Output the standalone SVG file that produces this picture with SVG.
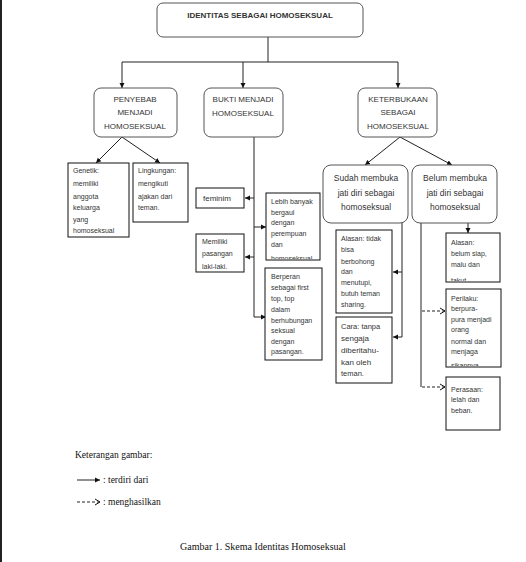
<svg xmlns="http://www.w3.org/2000/svg" width="526" height="562" viewBox="0 0 526 562">
<style>
.rb{fill:#fff;stroke:#555;stroke-width:1}
.bx{fill:#fff;stroke:#111;stroke-width:1}
.t{font-family:"Liberation Sans",Arial,sans-serif;fill:#333}
.h{font-size:8px;text-anchor:middle}
.s{font-size:7px}
.m{font-size:8.5px;text-anchor:middle}
.ln{fill:none;stroke:#222;stroke-width:1}
.dl{fill:none;stroke:#222;stroke-width:1;stroke-dasharray:3,2}
.tm{font-family:"Liberation Serif","Times New Roman",serif;fill:#111;font-size:10px}
.lg{font-size:9.5px}
</style>
<defs>
<marker id="a" markerWidth="6" markerHeight="6" refX="5" refY="3" orient="auto" markerUnits="userSpaceOnUse">
<path d="M0,0.5 L5,3 L0,5.5 Z" fill="#111"/>
</marker>
<marker id="o" markerWidth="7" markerHeight="8" refX="6" refY="4" orient="auto" markerUnits="userSpaceOnUse">
<path d="M1,1 L6,4 L1,7" fill="none" stroke="#111" stroke-width="1"/>
</marker>
<clipPath id="c1"><rect x="266" y="193" width="54" height="66"/></clipPath>
<clipPath id="c2"><rect x="446" y="233" width="54" height="48"/></clipPath>
<clipPath id="c3"><rect x="446" y="289" width="55" height="77"/></clipPath>
</defs>
<rect width="526" height="562" fill="#fff"/>
<line x1="1" y1="0" x2="1" y2="562" stroke="#222" stroke-width="2"/>

<g id="connectors">
<path class="ln" d="M268,37 V62 M122,62 H398"/>
<path class="ln" d="M122,62 V88" marker-end="url(#a)"/>
<path class="ln" d="M243,62 V88" marker-end="url(#a)"/>
<path class="ln" d="M398,62 V88" marker-end="url(#a)"/>
<path class="ln" d="M122,137 L96,163" marker-end="url(#a)"/>
<path class="ln" d="M122,137 L160,163" marker-end="url(#a)"/>
<path class="ln" d="M254,137 V317"/>
<path class="ln" d="M254,198 H245" marker-end="url(#a)"/>
<path class="ln" d="M254,227 H266" marker-end="url(#a)"/>
<path class="ln" d="M254,257 H245" marker-end="url(#a)"/>
<path class="ln" d="M254,317 H266" marker-end="url(#a)"/>
<path class="ln" d="M400,137 L365,165" marker-end="url(#a)"/>
<path class="ln" d="M400,137 L452,165" marker-end="url(#a)"/>
<path class="ln" d="M402,223 V337"/>
<path class="ln" d="M402,272 H393" marker-end="url(#a)"/>
<path class="ln" d="M402,337 H393" marker-end="url(#a)"/>
<path class="ln" d="M468,223 V233" marker-end="url(#a)"/>
<path class="ln" d="M421,223 V387"/>
<path class="dl" d="M422,311 H445" marker-end="url(#o)"/>
<path class="dl" d="M422,387 H445" marker-end="url(#o)"/>
</g>

<g id="n-identitas">
<rect class="rb" x="157" y="3" width="206" height="34" rx="6"/>
<text class="t" x="260" y="18" font-size="8" font-weight="bold" text-anchor="middle" fill="#222">IDENTITAS SEBAGAI HOMOSEKSUAL</text>
</g>

<g id="n-penyebab">
<rect class="rb" x="94" y="88" width="83" height="49" rx="7"/>
<text class="t h" x="135" y="102">PENYEBAB</text>
<text class="t h" x="135" y="115">MENJADI</text>
<text class="t h" x="135" y="129">HOMOSEKSUAL</text>
</g>

<g id="n-bukti">
<rect class="rb" x="204" y="88" width="79" height="49" rx="7"/>
<text class="t h" x="243" y="102">BUKTI MENJADI</text>
<text class="t h" x="243" y="116">HOMOSEKSUAL</text>
</g>

<g id="n-keterbukaan">
<rect class="rb" x="358" y="88" width="79" height="49" rx="7"/>
<text class="t h" x="398" y="102">KETERBUKAAN</text>
<text class="t h" x="398" y="115">SEBAGAI</text>
<text class="t h" x="398" y="129">HOMOSEKSUAL</text>
</g>

<g id="n-genetik">
<rect class="bx" x="68" y="163" width="61" height="74"/>
<text class="t s" x="73" y="173">Genetik:</text>
<text class="t s" x="73" y="186">memiliki</text>
<text class="t s" x="73" y="199">anggota</text>
<text class="t s" x="73" y="210">keluarga</text>
<text class="t s" x="73" y="222">yang</text>
<text class="t s" x="73" y="233">homoseksual</text>
</g>

<g id="n-lingkungan">
<rect class="bx" x="133" y="163" width="55" height="59"/>
<text class="t s" x="138" y="173">Lingkungan:</text>
<text class="t s" x="138" y="186">mengikuti</text>
<text class="t s" x="138" y="199">ajakan dari</text>
<text class="t s" x="138" y="210">teman.</text>
</g>

<g id="n-feminim">
<rect class="bx" x="196" y="188" width="48" height="20"/>
<text class="t" x="203" y="201" font-size="8">feminim</text>
</g>

<g id="n-memiliki">
<rect class="bx" x="196" y="234" width="48" height="38"/>
<text class="t s" x="202" y="244">Memiliki</text>
<text class="t s" x="202" y="256">pasangan</text>
<text class="t s" x="202" y="269">laki-laki.</text>
</g>

<g id="n-lebih">
<rect class="bx" x="266" y="193" width="54" height="67"/>
<g clip-path="url(#c1)">
<text class="t s" x="271" y="204">Lebih banyak</text>
<text class="t s" x="271" y="215">bergaul</text>
<text class="t s" x="271" y="225">dengan</text>
<text class="t s" x="271" y="236">perempuan</text>
<text class="t s" x="271" y="247">dan</text>
<text class="t s" x="271" y="261">homoseksual</text>
</g>
</g>

<g id="n-berperan">
<rect class="bx" x="265" y="268" width="57" height="92"/>
<text class="t s" x="271" y="279">Berperan</text>
<text class="t s" x="271" y="290">sebagai first</text>
<text class="t s" x="271" y="301">top, top</text>
<text class="t s" x="271" y="312">dalam</text>
<text class="t s" x="271" y="323">berhubungan</text>
<text class="t s" x="271" y="333">seksual</text>
<text class="t s" x="271" y="344">dengan</text>
<text class="t s" x="271" y="354">pasangan.</text>
</g>

<g id="n-sudah">
<rect class="rb" x="323" y="165" width="85" height="58" rx="8"/>
<text class="t m" x="366" y="181">Sudah membuka</text>
<text class="t m" x="366" y="196">jati diri sebagai</text>
<text class="t m" x="366" y="210">homoseksual</text>
</g>

<g id="n-belum">
<rect class="rb" x="412" y="165" width="85" height="58" rx="8"/>
<text class="t m" x="455" y="181">Belum membuka</text>
<text class="t m" x="455" y="196">jati diri sebagai</text>
<text class="t m" x="455" y="210">homoseksual</text>
</g>

<g id="n-alasan-sudah">
<rect class="bx" x="336" y="230" width="56" height="83"/>
<text class="t s" x="341" y="241">Alasan: tidak</text>
<text class="t s" x="341" y="252">bisa</text>
<text class="t s" x="341" y="264">berbohong</text>
<text class="t s" x="341" y="274">dan</text>
<text class="t s" x="341" y="285">menutupi,</text>
<text class="t s" x="341" y="296">butuh teman</text>
<text class="t s" x="341" y="307">sharing.</text>
</g>

<g id="n-cara">
<rect class="bx" x="336" y="317" width="56" height="66"/>
<text class="t" x="341" y="329" font-size="7.5">Cara: tanpa</text>
<text class="t" x="341" y="341" font-size="8">sengaja</text>
<text class="t" x="341" y="353" font-size="8">diberitahu-</text>
<text class="t" x="341" y="365" font-size="8">kan oleh</text>
<text class="t" x="341" y="376" font-size="7.5">teman.</text>
</g>

<g id="n-alasan-belum">
<rect class="bx" x="446" y="233" width="54" height="49"/>
<g clip-path="url(#c2)">
<text class="t s" x="451" y="245">Alasan:</text>
<text class="t s" x="451" y="256">belum siap,</text>
<text class="t s" x="451" y="267">malu dan</text>
<text class="t s" x="451" y="283">takut</text>
</g>
</g>

<g id="n-perilaku">
<rect class="bx" x="446" y="289" width="55" height="78"/>
<g clip-path="url(#c3)">
<text class="t s" x="451" y="301">Perilaku:</text>
<text class="t s" x="451" y="311">berpura-</text>
<text class="t s" x="451" y="322">pura menjadi</text>
<text class="t s" x="451" y="332">orang</text>
<text class="t s" x="451" y="344">normal dan</text>
<text class="t s" x="451" y="354">menjaga</text>
<text class="t s" x="451" y="368">sikapnya</text>
</g>
</g>

<g id="n-perasaan">
<rect class="bx" x="446" y="377" width="54" height="53"/>
<text class="t s" x="451" y="392">Perasaan:</text>
<text class="t s" x="451" y="402">lelah dan</text>
<text class="t s" x="451" y="413">beban.</text>
</g>

<g id="legend">
<text class="tm lg" x="75" y="458">Keterangan gambar:</text>
<path class="ln" d="M77,480 H100" marker-end="url(#a)"/>
<text class="tm lg" x="103" y="483">: terdiri dari</text>
<path class="dl" d="M77,502 H100" marker-end="url(#o)"/>
<text class="tm lg" x="103" y="505">: menghasilkan</text>
</g>

<text class="tm" x="180" y="550">Gambar 1. Skema Identitas Homoseksual</text>
</svg>
